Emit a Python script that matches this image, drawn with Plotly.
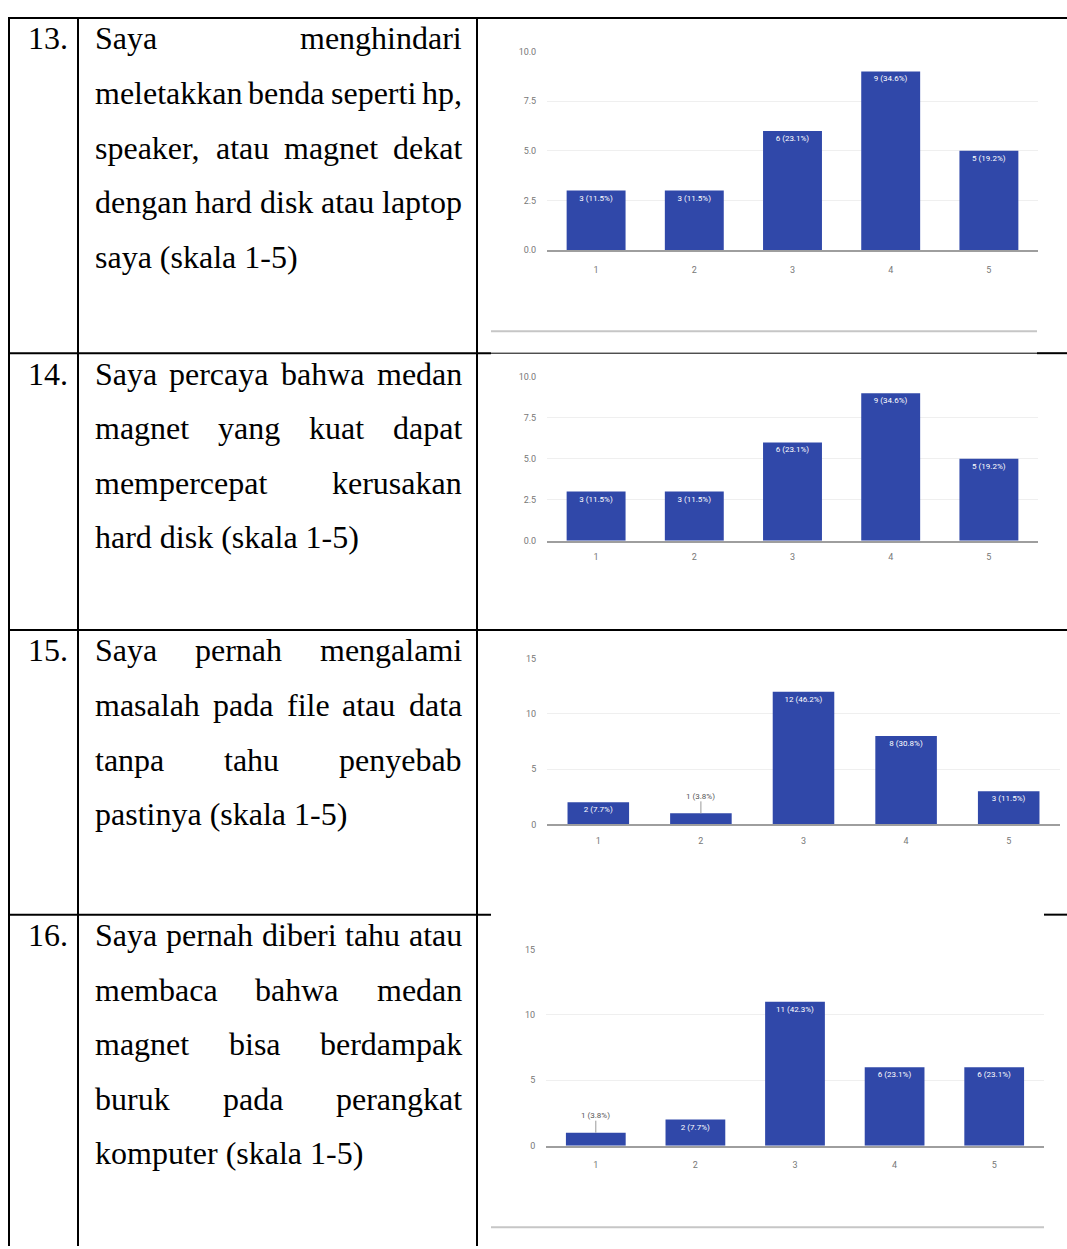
import plotly.graph_objects as go

W, H = 1067, 1249

# ---------------- data ----------------
categories = ["1", "2", "3", "4", "5"]

q13_counts = [3, 3, 6, 9, 5]
q13_labels = ["3 (11.5%)", "3 (11.5%)", "6 (23.1%)", "9 (34.6%)", "5 (19.2%)"]

q14_counts = [3, 3, 6, 9, 5]
q14_labels = ["3 (11.5%)", "3 (11.5%)", "6 (23.1%)", "9 (34.6%)", "5 (19.2%)"]

q15_counts = [2, 1, 12, 8, 3]
q15_labels = ["2 (7.7%)", "1 (3.8%)", "12 (46.2%)", "8 (30.8%)", "3 (11.5%)"]

q16_counts = [1, 2, 11, 6, 6]
q16_labels = ["1 (3.8%)", "2 (7.7%)", "11 (42.3%)", "6 (23.1%)", "6 (23.1%)"]

yticks_10 = [0, 2.5, 5, 7.5, 10]
yticks_10_text = ["0.0", "2.5", "5.0", "7.5", "10.0"]
yticks_15 = [0, 5, 10, 15]
yticks_15_text = ["0", "5", "10", "15"]

row_numbers = ["13.", "14.", "15.", "16."]

q13_lines = ["Saya menghindari",
             "meletakkan benda seperti hp,",
             "speaker, atau magnet dekat",
             "dengan hard disk atau laptop",
             "saya (skala 1-5)"]
q14_lines = ["Saya percaya bahwa medan",
             "magnet yang kuat dapat",
             "mempercepat kerusakan",
             "hard disk (skala 1-5)"]
q15_lines = ["Saya pernah mengalami",
             "masalah pada file atau data",
             "tanpa tahu penyebab",
             "pastinya (skala 1-5)"]
q16_lines = ["Saya pernah diberi tahu atau",
             "membaca bahwa medan",
             "magnet bisa berdampak",
             "buruk pada perangkat",
             "komputer (skala 1-5)"]

# ---------------- layout helpers ----------------
def px(x):
    return x / W


def py(y):
    return 1 - y / H


# Times / Liberation Serif advance widths (per 1000 em)
TIMES_W = {
    'a': 444, 'b': 500, 'c': 444, 'd': 500, 'e': 444, 'f': 333, 'g': 500,
    'h': 500, 'i': 278, 'j': 278, 'k': 500, 'l': 278, 'm': 778, 'n': 500,
    'o': 500, 'p': 500, 'q': 500, 'r': 333, 's': 389, 't': 278, 'u': 500,
    'v': 500, 'w': 722, 'x': 500, 'y': 500, 'z': 444, 'S': 556, ',': 250,
    '.': 250, '(': 333, ')': 333, '-': 333, ' ': 250,
}


def text_w(s, fs):
    return sum(TIMES_W.get(c, 500) for c in s) / 1000.0 * fs


BAR_COLOR = "#3048a9"
TICK_COLOR = "#777777"
GRID_COLOR = "#efefef"
AXIS_COLOR = "#9e9e9e"
TEXT_FONT = "Liberation Serif"
FS = 32

fig = go.Figure()
annotations = []
shapes = []

# chart geometry in page pixels: x0, x1 (plot area), y of top gridline, y of zero line
charts = [
    dict(counts=q13_counts, labels=q13_labels, ymax=10, tv=yticks_10, tt=yticks_10_text,
         x0=547, x1=1038, ytop=47, yzero=247, ticklen=10),
    dict(counts=q14_counts, labels=q14_labels, ymax=10, tv=yticks_10, tt=yticks_10_text,
         x0=547, x1=1038, ytop=375, yzero=540, ticklen=7),
    dict(counts=q15_counts, labels=q15_labels, ymax=15, tv=yticks_15, tt=yticks_15_text,
         x0=547, x1=1060, ytop=659, yzero=826, ticklen=7),
    dict(counts=q16_counts, labels=q16_labels, ymax=15, tv=yticks_15, tt=yticks_15_text,
         x0=546, x1=1044, ytop=952, yzero=1150, ticklen=10),
]

layout_axes = {}
for i, c in enumerate(charts):
    n = i + 1
    xa = "x" if n == 1 else f"x{n}"
    ya = "y" if n == 1 else f"y{n}"
    ppu = (c["yzero"] - c["ytop"]) / c["ymax"]
    inside_text = []
    for k, (cat, v, lab) in enumerate(zip(categories, c["counts"], c["labels"])):
        if v * ppu >= 16:
            inside_text.append(lab)
        else:
            inside_text.append("")
            annotations.append(dict(
                x=k, y=v, xref=xa, yref=ya, text=lab, showarrow=True,
                arrowhead=0, arrowwidth=1, arrowcolor="#9a9a9a", ax=0, ay=-17,
                font=dict(family="Roboto", size=8, color="#555555"),
                borderpad=0))
    fig.add_trace(go.Bar(
        x=categories, y=c["counts"], text=inside_text, textposition="inside",
        insidetextanchor="end", textangle=0,
        textfont=dict(family="Roboto", size=8, color="white"),
        marker=dict(color=BAR_COLOR, line=dict(width=0)), width=0.6,
        xaxis=xa, yaxis=ya, hoverinfo="skip", cliponaxis=False))
    xkey = "xaxis" if n == 1 else f"xaxis{n}"
    ykey = "yaxis" if n == 1 else f"yaxis{n}"
    layout_axes[xkey] = dict(
        domain=[px(c["x0"]), px(c["x1"])], anchor=ya, type="category",
        range=[-0.5, 4.5], showgrid=False, zeroline=False,
        showline=True, linecolor=AXIS_COLOR, linewidth=1.5,
        ticks="outside", ticklen=c["ticklen"], tickcolor="rgba(0,0,0,0)",
        tickfont=dict(family="Roboto", size=9, color=TICK_COLOR), fixedrange=True)
    layout_axes[ykey] = dict(
        domain=[py(c["yzero"]), py(c["ytop"])], anchor=xa,
        range=[0, c["ymax"]], tickvals=c["tv"], ticktext=c["tt"],
        showgrid=True, gridcolor=GRID_COLOR, gridwidth=1, zeroline=False,
        showline=False, ticks="outside", ticklen=8, tickcolor="rgba(0,0,0,0)",
        tickfont=dict(family="Roboto", size=9, color=TICK_COLOR), fixedrange=True)

# ---------------- table lines ----------------
def hline(x0, x1, y, w=2, color="black"):
    shapes.append(dict(type="line", xref="paper", yref="paper",
                       x0=px(x0), x1=px(x1), y0=py(y), y1=py(y),
                       line=dict(color=color, width=w)))


def vline(x, y0, y1, w=2, color="black"):
    shapes.append(dict(type="line", xref="paper", yref="paper",
                       x0=px(x), x1=px(x), y0=py(y0), y1=py(y1),
                       line=dict(color=color, width=w)))


row_tops = [13, 351, 630, 917]
hline(8, W, row_tops[0])
hline(8, 491, row_tops[1])
hline(491, 1037, row_tops[1], w=1)
hline(1037, W, row_tops[1])
hline(8, W, row_tops[2])
hline(8, 491, row_tops[3])
hline(1044, W, row_tops[3])
for x in (9, 78, 477):
    vline(x, 12, H + 2)

# light grey bottom edges of the chart images
hline(491, 1037, 329, w=2, color="#c6c6c6")
hline(491, 1044, 1232, w=2, color="#c6c6c6")

# ---------------- left text columns ----------------
TXT_L, TXT_R = 95, 462
LINE_GAP = 55
FIRST_BASE = 31.5
BASE_TO_MID = 0.3375 * FS


def add_text(s, x, baseline):
    annotations.append(dict(
        x=px(x), y=py(baseline - BASE_TO_MID), xref="paper", yref="paper",
        text=s, showarrow=False, xanchor="left", yanchor="middle",
        font=dict(family=TEXT_FONT, size=FS, color="black"),
        borderpad=0, borderwidth=0))


all_lines = [q13_lines, q14_lines, q15_lines, q16_lines]
for r, (top, num, lines) in enumerate(zip(row_tops, row_numbers, all_lines)):
    for li, line in enumerate(lines):
        base = top + FIRST_BASE + LINE_GAP * li
        if li == 0:
            add_text(num, 28, base)
        words = line.split(" ")
        last = li == len(lines) - 1
        if last or len(words) == 1:
            add_text(line, TXT_L, base)
        else:
            tot = sum(text_w(w_, FS) for w_ in words)
            gap = (TXT_R - TXT_L - tot) / (len(words) - 1)
            x = TXT_L
            for w_ in words:
                add_text(w_, x, base)
                x += text_w(w_, FS) + gap

fig.update_layout(
    width=W, height=H, margin=dict(l=0, r=0, t=0, b=0, pad=0),
    paper_bgcolor="white", plot_bgcolor="white", showlegend=False,
    bargap=0.4, annotations=annotations, shapes=shapes, **layout_axes)

fig.write_html("out.html")
